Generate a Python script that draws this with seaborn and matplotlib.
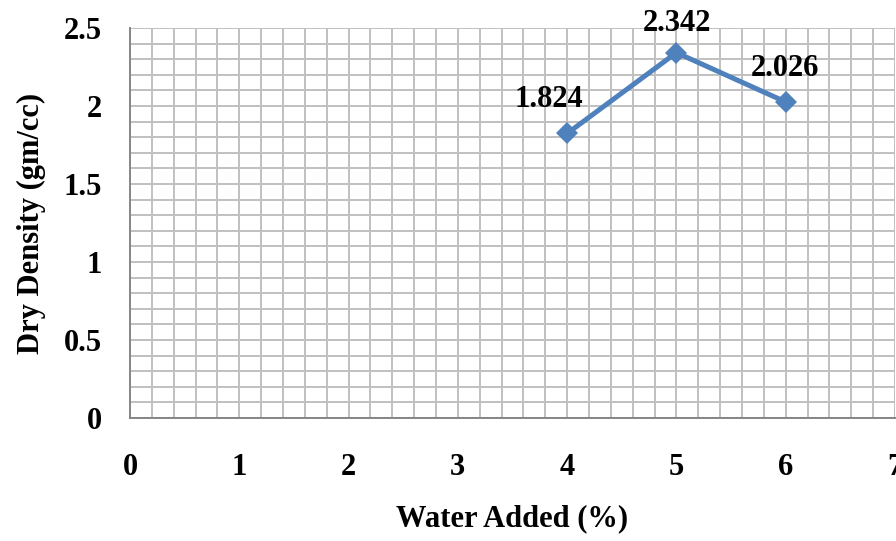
import matplotlib
matplotlib.use("Agg")
import matplotlib.pyplot as plt
import seaborn as sns
import pandas as pd
from matplotlib.ticker import MultipleLocator, FuncFormatter

# data
water_added = [4, 5, 6]
dry_density = [1.824, 2.342, 2.026]
point_labels = ["1.824", "2.342", "2.026"]
x_ticks = [0, 1, 2, 3, 4, 5, 6, 7]
y_ticks = [0, 0.5, 1, 1.5, 2, 2.5]

df = pd.DataFrame({"water": water_added, "density": dry_density})

sns.set_style("white")
plt.rcParams["font.family"] = ["Liberation Serif", "DejaVu Serif"]
plt.rcParams["font.weight"] = "bold"
plt.rcParams["text.color"] = "black"
plt.rcParams["axes.labelcolor"] = "black"
plt.rcParams["xtick.color"] = "black"
plt.rcParams["ytick.color"] = "black"

fig = plt.figure(figsize=(8.96, 5.41), dpi=100)
ax = fig.add_axes([130 / 896, 1 - 418 / 541, 765 / 896, 390 / 541])

sns.lineplot(data=df, x="water", y="density", ax=ax, color="#4F81BD",
             linewidth=3.6, marker="D", markersize=11, markeredgewidth=0,
             zorder=5)

# labels above each point (offsets in pixels)
offsets = [(-18, 34), (1, 29), (-1, 33)]
for x, y, lab, (dx, dy) in zip(water_added, dry_density, point_labels, offsets):
    ax.annotate(lab, (x, y), xytext=(dx * 0.72, dy * 0.72),
                textcoords="offset points", ha="center", va="center",
                fontsize=22, fontweight="bold", color="black")

ax.set_xlim(0, 7)
ax.set_ylim(0, 2.5)
ax.set_xticks(x_ticks)
ax.set_yticks(y_ticks)
ax.xaxis.set_minor_locator(MultipleLocator(0.2))
ax.yaxis.set_minor_locator(MultipleLocator(0.1))
ax.yaxis.set_major_formatter(FuncFormatter(lambda v, p: f"{v:g}"))

ax.grid(which="both", color="#C0C0C0", linewidth=1.4)
ax.set_axisbelow(True)

for side in ["top", "right"]:
    ax.spines[side].set_visible(False)
for side in ["left", "bottom"]:
    ax.spines[side].set_color("#868686")
    ax.spines[side].set_linewidth(1.4)

ax.tick_params(axis="both", which="major", direction="out", length=8,
               width=1.2, color="#868686", labelcolor="black", labelsize=22)
ax.tick_params(axis="x", which="major", pad=17)
ax.tick_params(axis="y", which="major", pad=12)
ax.tick_params(which="minor", length=0)

ax.set_xlabel("Water Added (%)", fontsize=22, fontweight="bold", labelpad=16)
ax.set_ylabel("Dry Density (gm/cc)", fontsize=22, fontweight="bold", labelpad=13)

fig.savefig("out.png", dpi=100)
